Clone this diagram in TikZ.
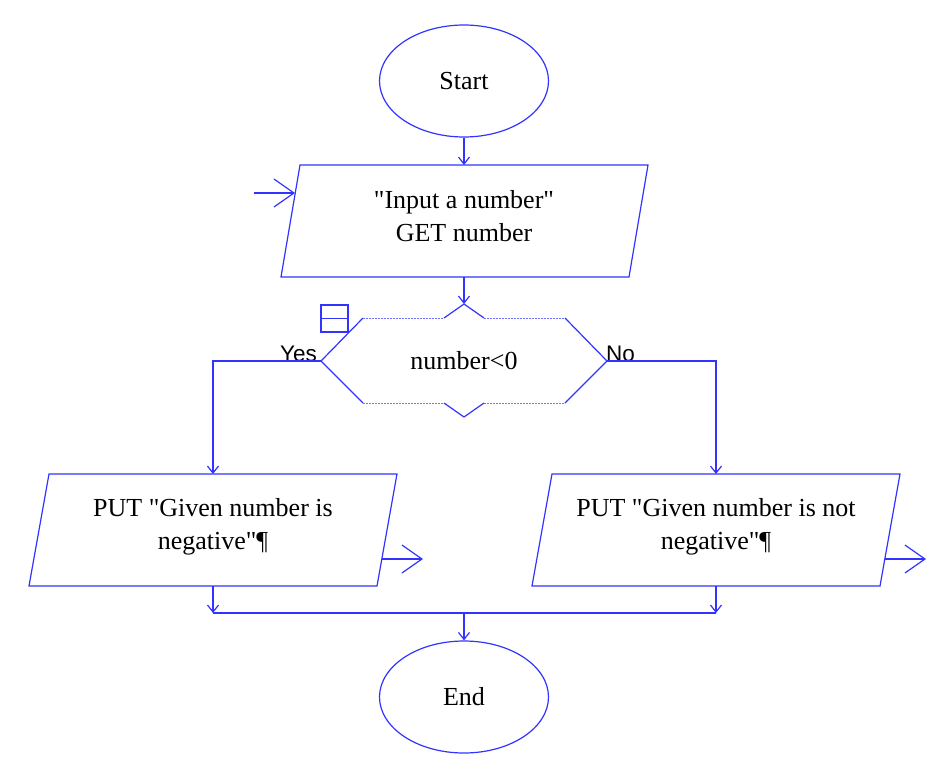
\documentclass[tikz,border=0pt]{standalone}
\usepackage{fontspec}
\setmainfont{Liberation Serif}[Ligatures=TeXOff]
\newfontfamily\labelfont{Liberation Sans}
\usetikzlibrary{shapes.geometric}
\usetikzlibrary{arrows.meta}
\definecolor{flowblue}{RGB}{51,51,255}
\tikzset{x=1pt, y=-1pt,
    terminal/.style={
        ellipse,
        draw=flowblue,
        line width=1.2pt,
        minimum width=169pt,
        minimum height=112pt,
        inner sep=0pt,
        font=\fontsize{26}{33.5}\selectfont},
    flowtext/.style={
        align=center,
        inner sep=0pt,
        font=\fontsize{26}{33.5}\selectfont},
    branch/.style={
        inner sep=0pt,
        font=\labelfont\fontsize{22.5}{27}\selectfont},
    line/.style={
        draw=flowblue,
        line width=1.2pt},
    guide/.style={
        draw=flowblue!70,
        line width=0.8pt,
        dash pattern=on 1.5pt off 1.5pt},
    link/.style={
        line,
        -{Straight Barb[length=7pt,width=11pt]}},
    port/.style={
        line,
        -{Straight Barb[length=20pt,width=28pt]}}}

\begin{document}
\begin{tikzpicture}
    \useasboundingbox (0,0) rectangle (946,777);
    \node[terminal] (start) at (464,81) {Start};
    \node[terminal] (end) at (464,697) {End};

    % input box
    \coordinate (in-top) at (464,165);
    \coordinate (in-bot) at (464,277);
    \coordinate (in-left) at (295,193);
    \coordinate (entry) at (254,193);
    \draw[line] (300,165) -- (648,165) -- (629,277) -- (281,277) -- cycle;
    \node[flowtext] (input) at (464,216) {"Input a number"\\GET number};

    % decision
    \coordinate (dec-top) at (464,304);
    \coordinate (dec-left) at (321,361);
    \coordinate (dec-right) at (607,361);
    \draw[line] (363,318) -- (dec-left) -- (363,403);
    \draw[line] (565,318) -- (dec-right) -- (565,403);
    \draw[line] (444,318) -- (dec-top) -- (484,318);
    \draw[line] (444,403) -- (464,417) -- (484,403);
    \draw[guide] (363,318) -- (444,318) (484,318) -- (565,318);
    \draw[guide] (363,403) -- (444,403) (484,403) -- (565,403);
    \draw[line] (321,305) rectangle (348,332) (321,318.5) -- (348,318.5);
    \node[flowtext] (cond) at (464,361) {number<0};
    \node[branch, anchor=base east] (yes) at (317,361) {Yes};
    \node[branch, anchor=base west] (no) at (606,361) {No};

    % output boxes
    \coordinate (neg-top) at (213,474);
    \coordinate (neg-bot) at (213,586);
    \coordinate (neg-right) at (382,559);
    \coordinate (neg-exit) at (423,559);
    \coordinate (neg-join) at (213,613);
    \draw[line] (49,474) -- (397,474) -- (377,586) -- (29,586) -- cycle;
    \node[flowtext] (neg) at (213,527) {PUT "Given number is\\negative"¶};

    \coordinate (pos-top) at (716,474);
    \coordinate (pos-bot) at (716,586);
    \coordinate (pos-right) at (885,559);
    \coordinate (pos-exit) at (926,559);
    \coordinate (pos-join) at (716,613);
    \draw[line] (552,474) -- (900,474) -- (880,586) -- (532,586) -- cycle;
    \node[flowtext] (pos) at (716,527) {PUT "Given number is not\\negative"¶};

    \coordinate (mid-join) at (464,613);

    \draw[link] (start) -- (in-top);
    \draw[port] (entry) -- (in-left);
    \draw[link] (in-bot) -- (dec-top);
    \draw[link] (dec-left) -| (neg-top);
    \draw[link] (dec-right) -| (pos-top);
    \draw[port] (neg-right) -- (neg-exit);
    \draw[port] (pos-right) -- (pos-exit);
    \draw[link] (neg-bot) -- (neg-join);
    \draw[link] (pos-bot) -- (pos-join);
    \draw[line] (neg-join) -- (pos-join);
    \draw[link] (mid-join) -- (end);
\end{tikzpicture}
\end{document}
